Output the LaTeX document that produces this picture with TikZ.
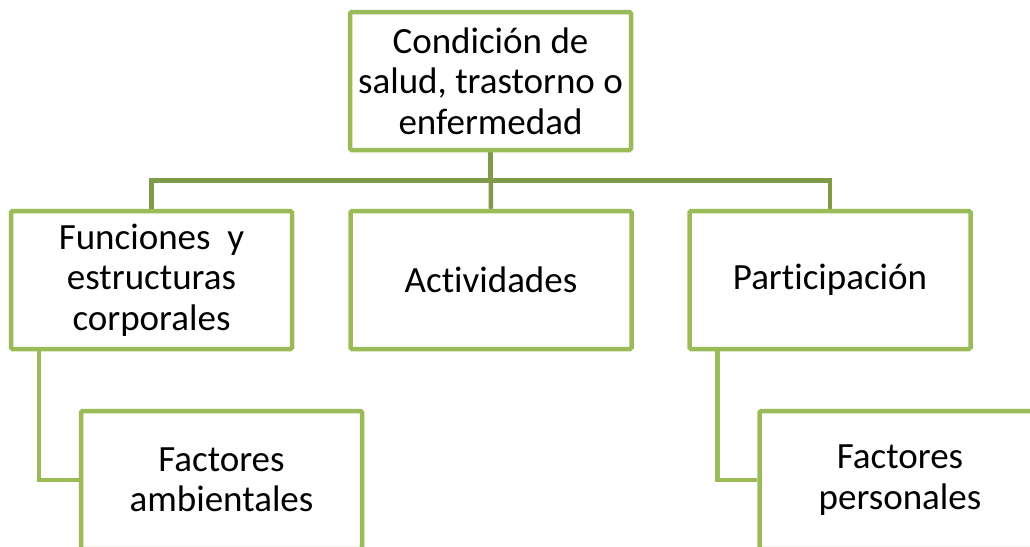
\documentclass[tikz,border=0pt]{standalone}
\usepackage{fontspec}
\setmainfont{Carlito}[Ligatures=NoCommon]
\usetikzlibrary{backgrounds}
\definecolor{boxgreen}{HTML}{9BBB59}
\definecolor{connGreen}{HTML}{7F9A48}
\tikzset{
  box/.style={draw=boxgreen, line width=4.5pt, fill=white, rounded corners=1.5pt,
    minimum width=281pt, minimum height=138pt, inner sep=0pt, align=center,
    font=\fontsize{37}{40.5}\selectfont, text=black},
  conn/.style={draw=connGreen, line width=4.5pt},
  subconn/.style={draw=boxgreen, line width=4.5pt}
}
\begin{document}
\begin{tikzpicture}[x=1pt,y=-1pt]
\useasboundingbox (0,0) rectangle (1030,546);
\clip (0,0) rectangle (1030,546);
\node[box] (t) at (490.5,81) {Condición de\\salud, trastorno o\\enfermedad};
\node[box] (l) at (151.5,280) {Funciones\ \ y\\estructuras\\corporales};
\node[box] (m) at (491,280) {Actividades};
\node[box] (r) at (830,280) {Participación};
\node[box] (fa) at (221.5,480) {Factores\\ambientales};
\node[box] (fp) at (900,480) {Factores\\personales};
\begin{scope}[on background layer]
\draw[conn] (t.south) -- ++(0,28) -| (l.north);
\draw[conn] (t.south) -- ++(0,28) -| (r.north);
\draw[conn] (t.south) -- (m.north);
\draw[subconn] ([xshift=30pt]l.south west) |- (fa.west);
\draw[subconn] ([xshift=30pt]r.south west) |- (fp.west);
\end{scope}
\end{tikzpicture}
\end{document}
